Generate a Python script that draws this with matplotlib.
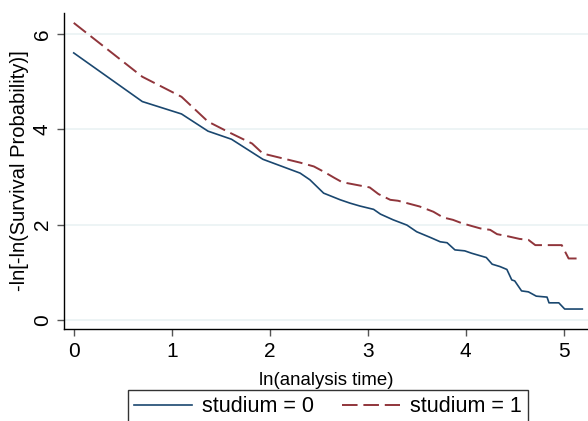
import matplotlib
matplotlib.use("Agg")
import matplotlib.pyplot as plt

# ln(analysis time) and -ln(-ln(S)) for each group
lnt_0 = [0.00, 0.70, 1.10, 1.37, 1.61, 1.93, 2.31, 2.41, 2.55, 2.72, 2.82, 2.92,
         3.06, 3.13, 3.26, 3.40, 3.50, 3.64, 3.74, 3.81, 3.89, 3.99, 4.06, 4.21,
         4.27, 4.35, 4.42, 4.47, 4.50, 4.57, 4.64, 4.72, 4.83, 4.85, 4.95, 5.01, 5.19]
lls_0 = [5.60, 4.58, 4.32, 3.96, 3.79, 3.37, 3.08, 2.94, 2.66, 2.52, 2.45, 2.39,
         2.32, 2.22, 2.10, 1.99, 1.85, 1.73, 1.64, 1.62, 1.47, 1.45, 1.40, 1.31,
         1.17, 1.12, 1.06, 0.84, 0.82, 0.61, 0.59, 0.50, 0.48, 0.36, 0.36, 0.23, 0.23]

lnt_1 = [0.00, 0.70, 1.10, 1.37, 1.59, 1.82, 1.93, 2.31, 2.45, 2.56, 2.66, 2.73,
         2.79, 3.02, 3.11, 3.23, 3.31, 3.53, 3.67, 3.77, 3.87, 3.96, 4.08, 4.15,
         4.25, 4.32, 4.42, 4.55, 4.64, 4.71, 4.98, 5.05, 5.19]
lls_1 = [6.23, 5.10, 4.68, 4.16, 3.93, 3.70, 3.49, 3.30, 3.22, 3.10, 2.98, 2.90,
         2.87, 2.78, 2.64, 2.52, 2.50, 2.38, 2.27, 2.15, 2.10, 2.03, 1.96, 1.92,
         1.89, 1.80, 1.76, 1.70, 1.68, 1.57, 1.57, 1.29, 1.29]

labels = ["studium = 0", "studium = 1"]
xticks = [0, 1, 2, 3, 4, 5]
yticks = [0, 2, 4, 6]

plt.rcParams['font.family'] = ['Liberation Sans', 'DejaVu Sans']

fig = plt.figure(figsize=(5.88, 4.21), dpi=100)
ax = fig.add_axes([0.1094, 0.2185, 0.8906, 0.7505])

for y in yticks:
    ax.axhline(y, color='#eaf2f3', lw=1.2, zorder=0)

ax.plot(lnt_0, lls_0, color='#1a476f', lw=1.2, label=labels[0])
ax.plot(lnt_1, lls_1, color='#90353b', lw=1.4, dashes=(8, 3), label=labels[1])

ax.set_xlim(-0.096, 5.248)
ax.set_ylim(-0.189, 6.436)
ax.set_xticks(xticks)
ax.set_yticks(yticks)
ax.tick_params(axis='both', direction='out', length=5, width=1, color='#555555',
               labelsize=15, pad=4)
for lab in ax.get_yticklabels():
    lab.set_rotation(90)
    lab.set_va('center')

for side in ['top', 'right']:
    ax.spines[side].set_visible(False)
for side in ['left', 'bottom']:
    ax.spines[side].set_linewidth(1)
    ax.spines[side].set_color('black')

ax.set_xlabel("ln(analysis time)", fontsize=13.4, labelpad=8)
ax.set_ylabel("-ln[-ln(Survival Probability)]", fontsize=14.5, labelpad=3)

leg = fig.legend(loc='upper center', bbox_to_anchor=(0.5577, 0.0736), ncol=2,
                 fontsize=15.5, frameon=True, fancybox=False, edgecolor='black',
                 handlelength=2.7, columnspacing=1.3, borderpad=0.3,
                 handletextpad=0.45, borderaxespad=0)
leg.get_frame().set_linewidth(1)

fig.savefig("out.png", dpi=100)
